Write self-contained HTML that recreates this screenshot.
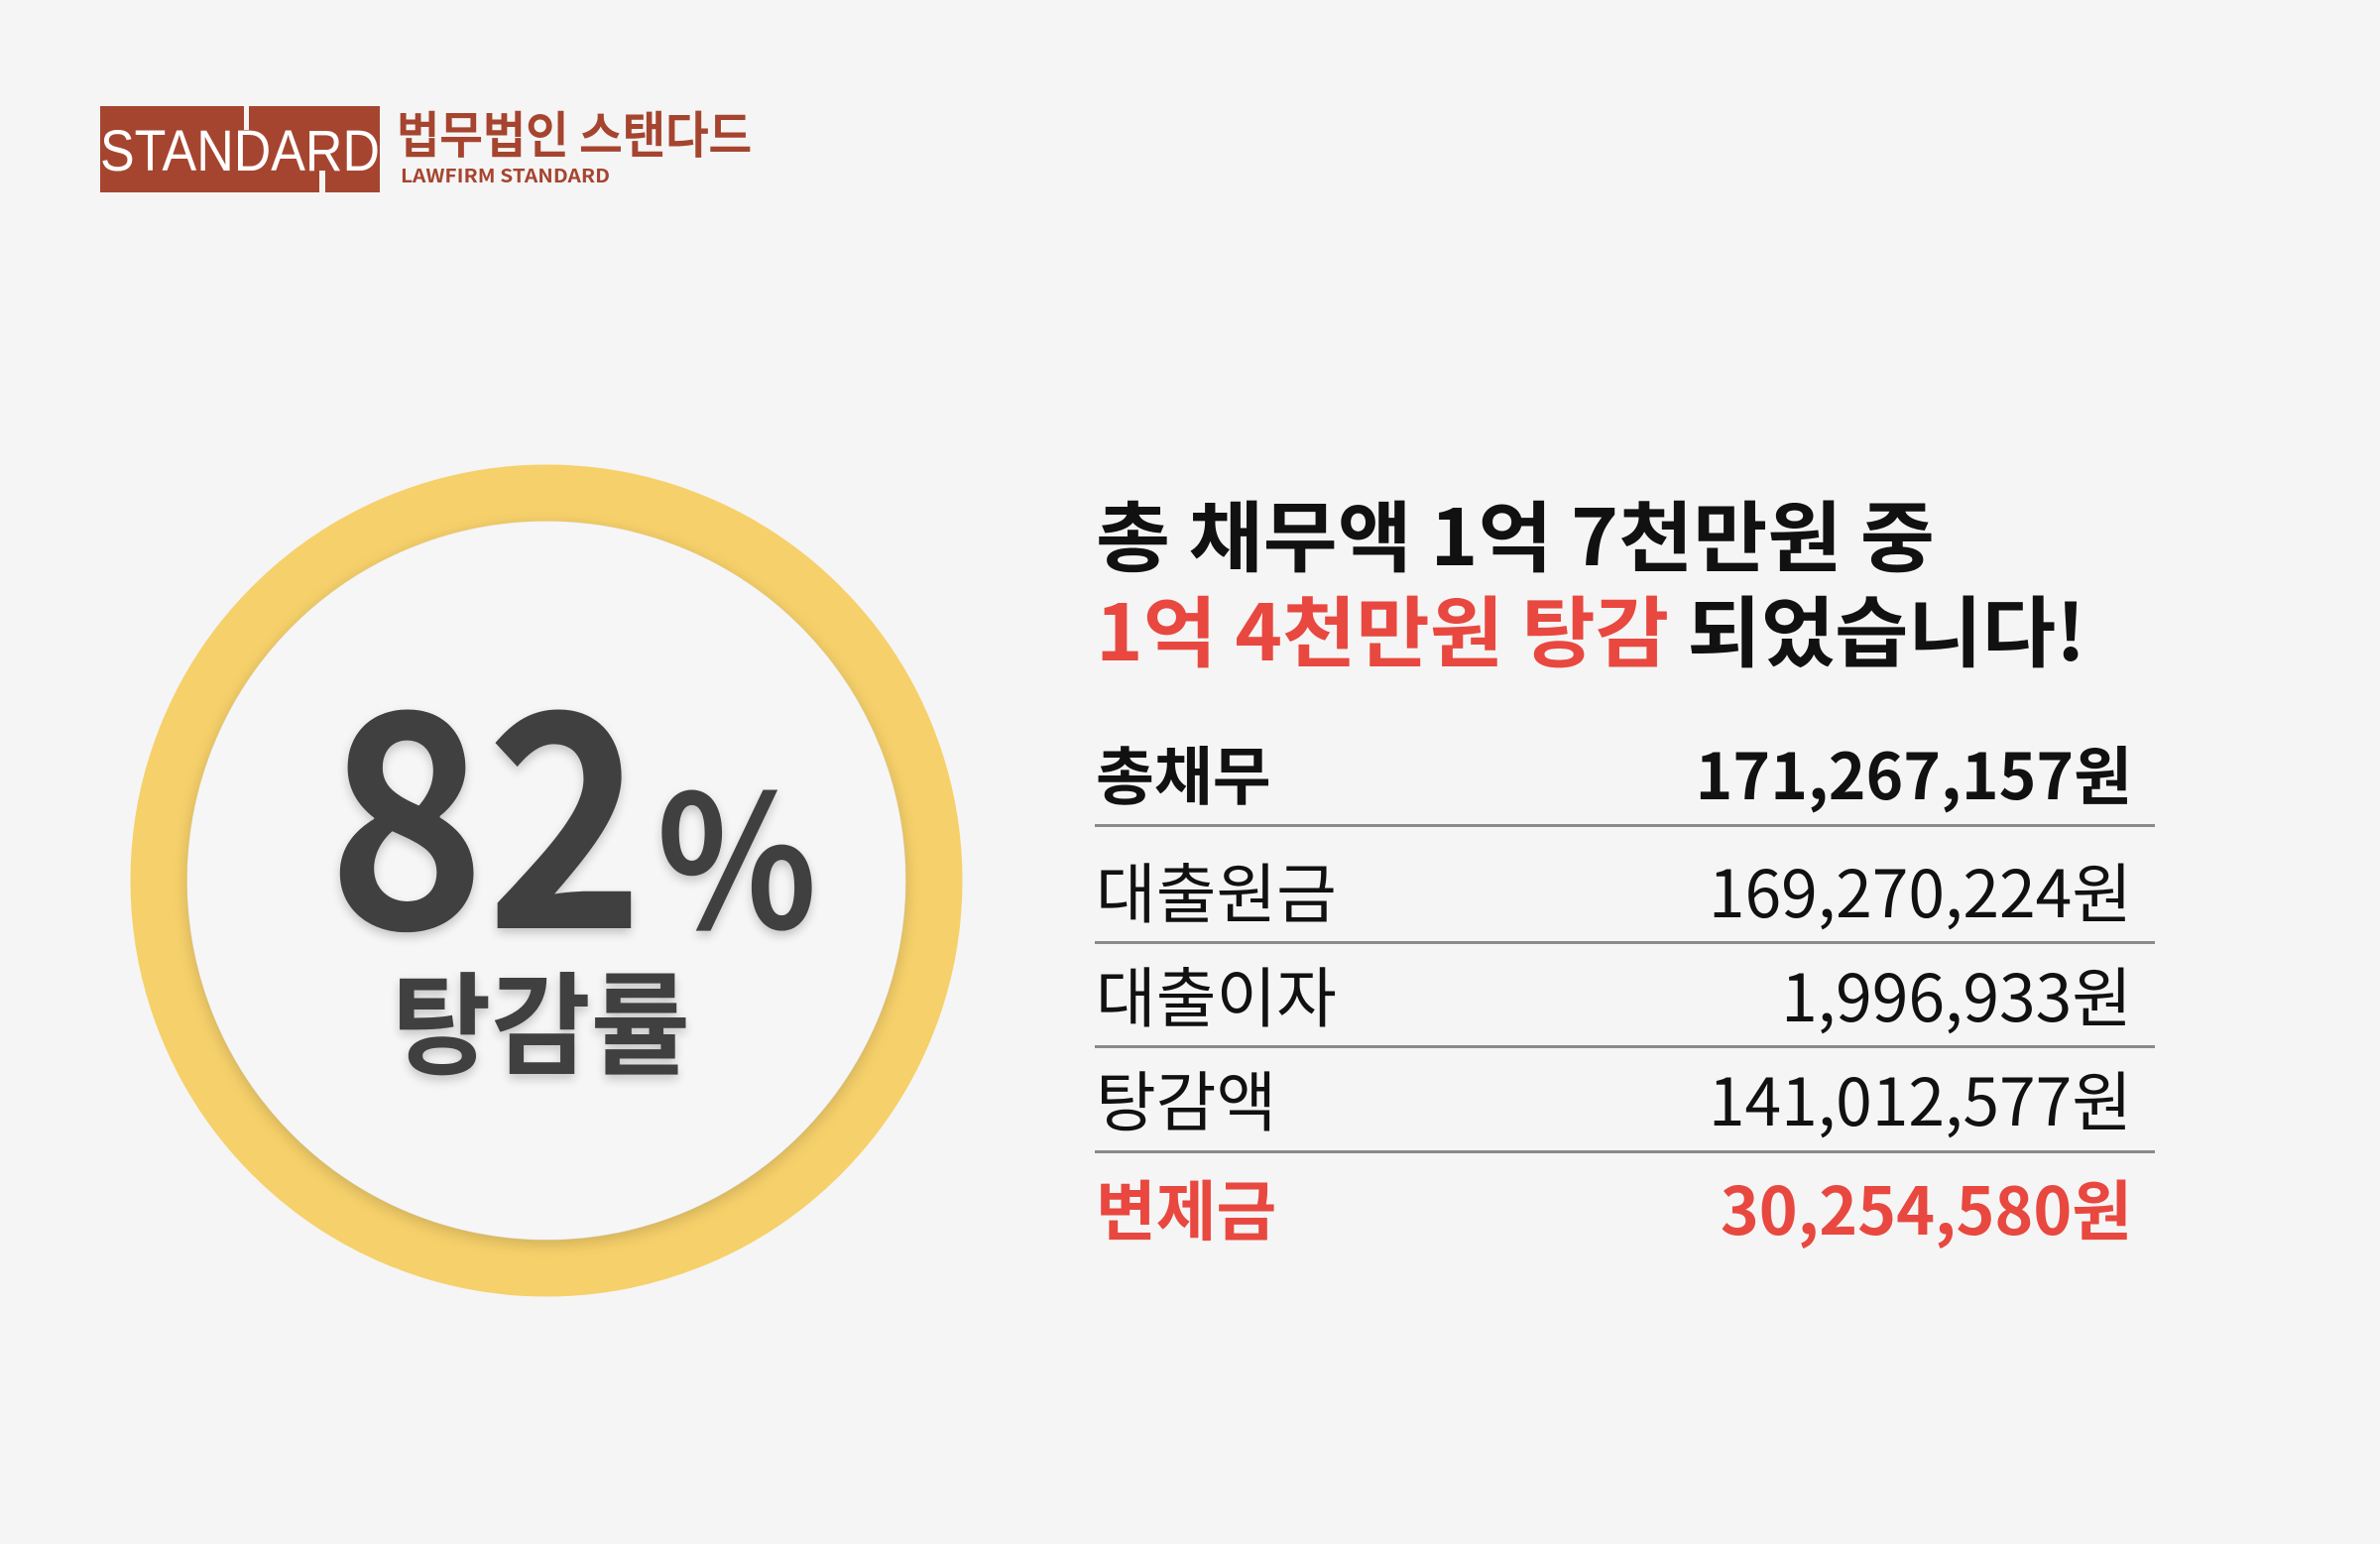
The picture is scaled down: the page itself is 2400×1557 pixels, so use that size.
<!DOCTYPE html>
<html><head><meta charset="utf-8"><style>
html,body{margin:0;padding:0;background:#f5f5f5;}
svg{display:block}
text{font-family:"Liberation Sans","Noto Sans CJK KR",sans-serif;}
.k{font-family:"Noto Sans CJK KR","Liberation Sans",sans-serif;}
</style></head><body>
<svg width="2400" height="1557" viewBox="0 0 2400 1557" xmlns="http://www.w3.org/2000/svg">
<defs>
<filter id="sh" x="-20%" y="-20%" width="140%" height="140%">
<feGaussianBlur in="SourceAlpha" stdDeviation="8"/>
<feOffset dx="0" dy="4"/>
<feComponentTransfer><feFuncA type="linear" slope="0.18"/></feComponentTransfer>
<feMerge><feMergeNode/><feMergeNode in="SourceGraphic"/></feMerge>
</filter>
<filter id="ts" x="-10%" y="-10%" width="120%" height="130%">
<feGaussianBlur in="SourceAlpha" stdDeviation="5"/>
<feOffset dx="0" dy="5"/>
<feComponentTransfer><feFuncA type="linear" slope="0.2"/></feComponentTransfer>
<feMerge><feMergeNode/><feMergeNode in="SourceGraphic"/></feMerge>
</filter>
</defs>
<rect width="2400" height="1557" fill="#f5f5f5"/>
<!-- logo -->
<rect x="101" y="107" width="282" height="87" fill="#A6452F"/>
<rect x="246" y="107" width="5" height="24" fill="#f5f5f5"/>
<rect x="322" y="172" width="6" height="22" fill="#f5f5f5"/>
<text x="101" y="172" font-size="58" fill="#fff" textLength="282" lengthAdjust="spacingAndGlyphs" font-family="Liberation Sans Narrow, Liberation Sans, sans-serif">STANDARD</text>
<text class="k" x="400" y="154" font-size="50" font-weight="500" fill="#A6452F" stroke="#A6452F" stroke-width="1" textLength="358" lengthAdjust="spacingAndGlyphs">법무법인 스탠다드</text>
<text class="k" x="404" y="184" font-size="19" font-weight="bold" fill="#A6452F" textLength="211" lengthAdjust="spacingAndGlyphs">LAWFIRM STANDARD</text>
<!-- circle -->
<circle cx="551" cy="888" r="391" fill="#f5f5f5" stroke="#F6D06A" stroke-width="57"/>
<circle cx="551" cy="888" r="362" fill="#f6f6f6" filter="url(#sh)"/>
<g filter="url(#ts)" fill="#404040">
<text class="k" x="330" y="936" font-size="300" font-weight="bold" textLength="320" lengthAdjust="spacingAndGlyphs">82</text>
<text class="k" x="662" y="936" font-size="185" font-weight="bold" textLength="162" lengthAdjust="spacingAndGlyphs">%</text>
<text class="k" x="395" y="1074" font-size="112" font-weight="bold" textLength="301" lengthAdjust="spacingAndGlyphs">탕감률</text>
</g>
<!-- title -->
<text class="k" x="1105" y="570" font-size="78" font-weight="bold" fill="#111" textLength="846" lengthAdjust="spacingAndGlyphs">총 채무액 1억 7천만원 중</text>
<text class="k" x="1105" y="666" font-size="78" font-weight="bold" textLength="998" lengthAdjust="spacingAndGlyphs"><tspan fill="#E8483F">1억 4천만원 탕감</tspan><tspan fill="#111"> 되었습니다!</tspan></text>
<!-- table -->
<g class="k">
<text class="k" x="1105" y="806" font-size="64" font-weight="bold" fill="#111">총채무</text>
<text class="k" x="2150" y="806" font-size="64" font-weight="bold" fill="#111" text-anchor="end">171,267,157원</text>
<rect x="1104" y="831" width="1069" height="3" fill="#8a8a8a"/>
<text class="k" x="1105" y="925" font-size="66" fill="#111">대출원금</text>
<text class="k" x="2150" y="925" font-size="66" fill="#111" text-anchor="end">169,270,224원</text>
<rect x="1104" y="949" width="1069" height="3" fill="#8a8a8a"/>
<text class="k" x="1105" y="1030" font-size="66" fill="#111">대출이자</text>
<text class="k" x="2150" y="1030" font-size="66" fill="#111" text-anchor="end">1,996,933원</text>
<rect x="1104" y="1054" width="1069" height="3" fill="#8a8a8a"/>
<text class="k" x="1105" y="1135" font-size="66" fill="#111">탕감액</text>
<text class="k" x="2150" y="1135" font-size="66" fill="#111" text-anchor="end">141,012,577원</text>
<rect x="1104" y="1160" width="1069" height="3" fill="#8a8a8a"/>
<text class="k" x="1105" y="1245" font-size="66" font-weight="bold" fill="#E8483F">변제금</text>
<text class="k" x="2150" y="1245" font-size="66" font-weight="bold" fill="#E8483F" text-anchor="end">30,254,580원</text>
</g>
</svg>
</body></html>
